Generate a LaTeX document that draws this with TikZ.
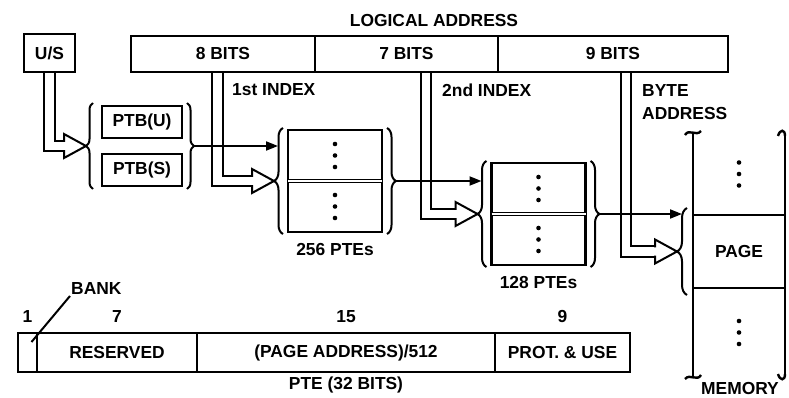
\documentclass[tikz,border=0pt]{standalone}
\usepackage{fontspec}
\setmainfont{Liberation Sans}
\usetikzlibrary{positioning,arrows.meta,decorations.pathreplacing,calc}

\tikzset{
  txt/.style={font=\bfseries\fontsize{17.4}{23}\selectfont, inner sep=1pt},
  fld/.style={txt, draw, line width=2.4pt, inner sep=0pt, outer sep=0pt, minimum height=36pt},
  mline/.style={line width=2.4pt},
  sarr/.style={line width=2pt, -{Triangle[length=12pt,width=9pt]}},
  dbl/.style={double, double distance=8.5pt, line width=2pt},
  brc/.style={line width=2pt, decorate, decoration={brace, amplitude=#1}},
  hhead/.pic={\draw[line width=2pt, line join=miter] (-22,-4.2) -- (-22,-12) -- (0,0) -- (-22,12) -- (-22,4.2);}
}

\begin{document}
\begin{tikzpicture}[x=1pt, y=-1pt]
		\useasboundingbox (0,0) rectangle (789,398);
		% logical address
		\node[txt] (logaddr) at (434,21) {LOGICAL ADDRESS};
		\node[fld, minimum width=184pt] (la8) at (223,54) {8 BITS};
		\node[fld, minimum width=183pt, right=0pt of la8] (la7) {7 BITS};
		\node[fld, minimum width=230pt, right=0pt of la7] (la9) {9 BITS};
		\node[txt, anchor=west] (idx1) at (231,90) {1st INDEX};
		\node[txt, anchor=west] (idx2) at (441,90) {2nd INDEX};
		\node[txt, anchor=north west, align=left] (byteaddr) at (641,83) {BYTE\\ADDRESS};
		% U/S and page table base
		\node[fld, minimum width=51pt, minimum height=38pt] (us) at (49.5,53) {U/S};
		\node[fld, minimum width=80pt, minimum height=32pt] (ptbu) at (142,122) {PTB(U)};
		\node[fld, minimum width=80pt, minimum height=32pt, below=16pt of ptbu] (ptbs) {PTB(S)};
		\draw[brc=7pt] ([xshift=-9pt,yshift=-3pt]ptbs.south west) -- ([xshift=-9pt,yshift=3pt]ptbu.north west);
		\draw[brc=7pt] ([xshift=5pt,yshift=3pt]ptbu.north east) -- ([xshift=5pt,yshift=-3pt]ptbs.south east);
		\coordinate (ptbin) at ($(ptbu.north west)!.5!(ptbs.south west)+(-16,0)$);
		\coordinate (ptbout) at ($(ptbu.north east)!.5!(ptbs.south east)+(12,0)$);
		% first table
		\node[fld, minimum width=94pt, minimum height=51pt] (t1a) at (335,155.5) {};
		\node[fld, minimum width=94pt, minimum height=51pt, below=0pt of t1a] (t1b) {};
		\draw[line width=1.2pt, double, double distance=1.5pt] (t1a.south west) -- (t1a.south east);
		\draw[brc=9pt] ([xshift=-5pt,yshift=-2pt]t1b.south west) -- ([xshift=-5pt,yshift=2pt]t1a.north west);
		\draw[brc=9pt] ([xshift=5pt,yshift=2pt]t1a.north east) -- ([xshift=5pt,yshift=-2pt]t1b.south east);
		\coordinate (t1in) at ([xshift=-14pt]t1a.south west);
		\coordinate (t1out) at ([xshift=14pt]t1a.south east);
		\node[txt, below=10.5pt of t1b] (n256) {256 PTEs};
		% second table
		\node[fld, minimum width=94pt, minimum height=51pt] (t2a) at (538.5,188.5) {};
		\node[fld, minimum width=94pt, minimum height=51pt, below=0pt of t2a] (t2b) {};
		\draw[line width=1.2pt, double, double distance=1.5pt] (t2a.south west) -- (t2a.south east);
		\draw[brc=9pt] ([xshift=-5pt,yshift=-2pt]t2b.south west) -- ([xshift=-5pt,yshift=2pt]t2a.north west);
		\draw[brc=9pt] ([xshift=5pt,yshift=2pt]t2a.north east) -- ([xshift=5pt,yshift=-2pt]t2b.south east);
		\coordinate (t2in) at ([xshift=-14pt]t2a.south west);
		\coordinate (t2out) at ([xshift=14pt]t2a.south east);
		\node[txt, below=10.5pt of t2b] (n128) {128 PTEs};
		% memory
		\node[fld, minimum width=92pt, minimum height=73pt] (page) at (739,251.5) {PAGE};
		\coordinate (mtl) at (693,133);
		\coordinate (mtr) at (785,133);
		\coordinate (mbl) at (693,377);
		\coordinate (mbr) at (785,377);
		\draw[mline] (mtl) -- (page.north west);
		\draw[mline] (mtr) -- (page.north east);
		\draw[mline] (page.south west) -- (mbl);
		\draw[mline] (page.south east) -- (mbr);
		\draw[mline] ($(mtl)+(-8,2)$) .. controls ($(mtl)+(-4,-5)$) and ($(mtl)+(3,4)$) .. ($(mtl)+(8,-2)$);  % break marks
		\draw[mline] ($(mtr)+(-7,3)$) .. controls ($(mtr)+(-5,-4)$) and ($(mtr)+(0,-4)$) .. ($(mtr)+(0,3)$);
		\draw[mline] ($(mbl)+(-8,2)$) .. controls ($(mbl)+(-3,-4)$) and ($(mbl)+(4,5)$) .. ($(mbl)+(8,-2)$);
		\draw[mline] ($(mbr)+(0,-3)$) .. controls ($(mbr)+(0,4)$) and ($(mbr)+(-5,4)$) .. ($(mbr)+(-7,-3)$);
		\draw[brc=10pt] ([xshift=-6pt,yshift=-7pt]page.south west) -- ([xshift=-6pt,yshift=7pt]page.north west);
		\coordinate (memin) at ([xshift=-16pt]page.west);
		\coordinate (mt) at ($(page.north)+(0,-41)$);
		\coordinate (mb) at ($(page.south)+(0,44.5)$);
		\node[txt] (memlbl) at (740,389) {MEMORY};
		% dots
		\foreach \c in {t1a,t1b,t2a,t2b,mt,mb}
			\foreach \d in {-11.5,0,11.5}
				\fill ($(\c)+(0,\d)$) circle (2.3pt);
		% double arrows
		\draw[dbl] ([yshift=-1.2pt]us.south) |- ($(ptbin)+(-22,0)$);
		\pic at (ptbin) {hhead};
		\draw[dbl] ([xshift=-5.5pt,yshift=-1.2pt]la8.south) |- ($(t1in)+(-22,0)$);
		\pic at (t1in) {hhead};
		\draw[dbl] ([xshift=19.5pt,yshift=-1.2pt]la7.south) |- ($(t2in)+(-22,0)$);
		\pic at (t2in) {hhead};
		\draw[dbl] ([xshift=13pt,yshift=-1.2pt]la9.south) |- ($(memin)+(-22,0)$);
		\pic at (memin) {hhead};
		% single arrows
		\draw[sarr] (ptbout) -- ($(ptbout -| t1a.west)+(-10,0)$);
		\draw[sarr] (t1out) -- ($(t1out -| t2a.west)+(-10,0)$);
		\draw[sarr] (t2out) -- ($(t2out -| page.west)+(-11,0)$);
		% PTE layout
		\node[fld, minimum width=19pt, minimum height=39pt] (pb) at (27.5,352.5) {};
		\node[fld, minimum width=160pt, minimum height=39pt, right=0pt of pb] (pr) {RESERVED};
		\node[fld, minimum width=298pt, minimum height=39pt, right=0pt of pr] (pp) {(PAGE ADDRESS)/512};
		\node[fld, minimum width=135pt, minimum height=39pt, right=0pt of pp] (pu) {PROT. \& USE};
		\node[txt, above=9pt of pb] (w1) {1};
		\node[txt, above=9pt of pr] (w7) {7};
		\node[txt, above=9pt of pp] (w15) {15};
		\node[txt, above=9pt of pu] (w9) {9};
		\node[txt, below=4pt of pp] (ptelbl) {PTE (32 BITS)};
		\node[txt, anchor=south west] (bank) at (70,296) {BANK};
		\draw[line width=2pt] (bank.south west) -- ([xshift=4pt,yshift=-9pt]pb.north);
	\end{tikzpicture}
\end{document}
